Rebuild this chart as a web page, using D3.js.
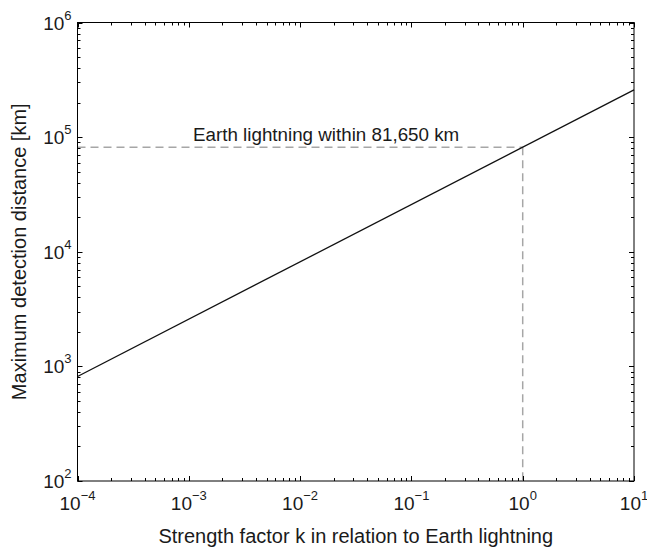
<!DOCTYPE html>
<meta charset="utf-8">
<style>
  body { margin: 0; background: #fff; }
  text { font-family: "Liberation Sans", Arial, sans-serif; fill: #1a1a1a; }
</style>
<body>
<svg width="647" height="550"></svg>
<script src="https://cdn.jsdelivr.net/npm/d3@7"></script>
<script>
  // line endpoints (k, distance in km)
  var strengthK = [1e-4, 10];
  var distanceKm = [816.5, 258200];

  // Earth reference
  var earthK = 1;
  var earthKm = 81650;
  var earthLabel = 'Earth lightning within 81,650 km';

  var xDecades = [-4, -3, -2, -1, 0, 1];
  var yDecades = [2, 3, 4, 5, 6];

  var svg = d3.select('svg');
  var plotL = 77.5, plotR = 634, plotT = 22.5, plotB = 481;

  var x = d3.scaleLog().domain([1e-4, 10]).range([plotL, plotR]);
  var y = d3.scaleLog().domain([1e2, 1e6]).range([plotB, plotT]);

  // dashed reference lines
  var dash = svg.append('g')
    .attr('fill', 'none')
    .attr('stroke', '#a6a6a6')
    .attr('stroke-width', 1.5)
    .attr('stroke-dasharray', '8 5');
  dash.append('line')
    .attr('x1', x(1e-4)).attr('x2', x(earthK))
    .attr('y1', y(earthKm)).attr('y2', y(earthKm));
  dash.append('line')
    .attr('x1', x(earthK)).attr('x2', x(earthK))
    .attr('y1', y(earthKm)).attr('y2', y(1e2));

  // main line
  var line = d3.line()
    .x(function (d) { return x(d[0]); })
    .y(function (d) { return y(d[1]); });
  svg.append('path')
    .datum(d3.zip(strengthK, distanceKm))
    .attr('d', line)
    .attr('fill', 'none')
    .attr('stroke', '#111')
    .attr('stroke-width', 1.3);

  svg.append('text')
    .attr('x', 193)
    .attr('y', y(earthKm) - 6)
    .style('font-size', '18.8px')
    .text(earthLabel);

  // box
  svg.append('rect')
    .attr('x', plotL).attr('y', plotT)
    .attr('width', plotR - plotL).attr('height', plotB - plotT)
    .attr('fill', 'none')
    .attr('stroke', '#000')
    .attr('stroke-width', 1);

  // ticks, inward on all four sides
  var xTicks = x.ticks();
  var yTicks = y.ticks();
  function isMajor(v) {
    return Math.abs(Math.log10(v) - Math.round(Math.log10(v))) < 1e-9;
  }
  var ticks = svg.append('g').attr('stroke', '#000').attr('stroke-width', 1);
  xTicks.forEach(function (v) {
    var len = isMajor(v) ? 5 : 3;
    var px = Math.round(x(v)) + 0.5;
    ticks.append('line').attr('x1', px).attr('x2', px).attr('y1', plotB).attr('y2', plotB - len);
    ticks.append('line').attr('x1', px).attr('x2', px).attr('y1', plotT).attr('y2', plotT + len);
  });
  yTicks.forEach(function (v) {
    var len = isMajor(v) ? 5 : 3;
    var py = Math.round(y(v)) + 0.5;
    ticks.append('line').attr('x1', plotL).attr('x2', plotL + len).attr('y1', py).attr('y2', py);
    ticks.append('line').attr('x1', plotR).attr('x2', plotR - len).attr('y1', py).attr('y2', py);
  });

  // tick labels 10^n
  xDecades.forEach(function (p) {
    var t = svg.append('text')
      .attr('x', x(Math.pow(10, p)))
      .attr('y', plotB + 29)
      .attr('text-anchor', 'middle')
      .style('font-size', '19px');
    t.append('tspan').text('10');
    t.append('tspan').attr('dy', -10).style('font-size', '13px').text(p < 0 ? '\u2212' + (-p) : p);
  });
  yDecades.forEach(function (p) {
    var t = svg.append('text')
      .attr('x', plotL - 6)
      .attr('y', y(Math.pow(10, p)) + 7)
      .attr('text-anchor', 'end')
      .style('font-size', '19px');
    t.append('tspan').text('10');
    t.append('tspan').attr('dy', -10).style('font-size', '13px').text(p);
  });

  // axis titles
  svg.append('text')
    .attr('x', (plotL + plotR) / 2)
    .attr('y', 543)
    .attr('text-anchor', 'middle')
    .style('font-size', '20px')
    .text('Strength factor k in relation to Earth lightning');
  svg.append('text')
    .attr('transform', 'translate(26,' + (plotT + plotB) / 2 + ') rotate(-90)')
    .attr('text-anchor', 'middle')
    .style('font-size', '20px')
    .text('Maximum detection distance [km]');
</script>
</body>
